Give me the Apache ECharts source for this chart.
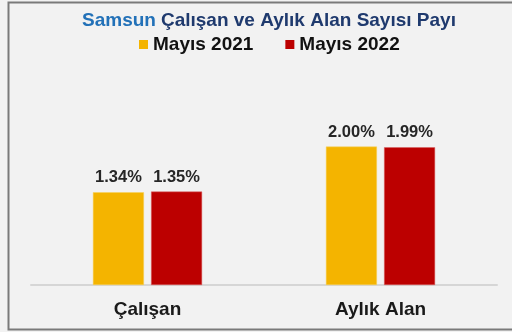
<!DOCTYPE html>
<html>
<head>
<meta charset="utf-8">
<script src="https://cdn.jsdelivr.net/npm/echarts@6/dist/echarts.min.js"></script>
<style>
  html, body { margin: 0; padding: 0; background: #f2f2f2; }
  #chart { width: 512px; height: 332px; }
</style>
</head>
<body>
<div id="chart"></div>
<script>
// Share of employees and monthly recipients in Samsun (%)
const categories = ['Çalışan', 'Aylık Alan'];
const seriesNames = ['Mayıs 2021', 'Mayıs 2022'];
const may2021 = [1.34, 2.00];
const may2022 = [1.35, 1.99];
const colors = ['#F4B400', '#BC0000'];

const chart = echarts.init(document.getElementById('chart'));

const FONT = 'Liberation Sans, Arial, sans-serif';

const labelStyle = {
  show: true,
  position: 'top',
  distance: 6,
  fontFamily: FONT,
  fontWeight: 'bold',
  fontSize: 16.5,
  color: '#262626',
  formatter: p => p.value.toFixed(2) + '%'
};

chart.setOption({
  backgroundColor: '#f2f2f2',
  animation: false,
  title: {
    text: '{a|Samsun} {b|Çalışan ve Aylık Alan Sayısı Payı}',
    left: 77,
    top: 6,
    textStyle: {
      rich: {
        a: { fontFamily: FONT, fontWeight: 'bold', fontSize: 19, color: '#2271B8' },
        b: { fontFamily: FONT, fontWeight: 'bold', fontSize: 19, color: '#1F3A6E' }
      }
    }
  },
  legend: {
    data: seriesNames,
    left: 134,
    top: 30,
    icon: 'rect',
    itemWidth: 9,
    itemHeight: 9,
    itemGap: 32,
    itemStyle: { borderWidth: 0 },
    textStyle: {
      fontFamily: FONT,
      fontWeight: 'bold',
      fontSize: 19,
      color: '#111111'
    }
  },
  grid: { left: 31, right: 15, top: 112, bottom: 47 },
  xAxis: {
    type: 'category',
    data: categories,
    axisLine: { lineStyle: { color: '#d6d6d6', width: 2 } },
    axisTick: { show: false },
    axisLabel: {
      margin: 15,
      fontFamily: FONT,
      fontWeight: 'bold',
      fontSize: 19,
      color: '#1a1a1a'
    }
  },
  yAxis: {
    type: 'value',
    min: 0,
    max: 2.5,
    show: false,
    splitLine: { show: false }
  },
  series: [
    {
      name: seriesNames[0],
      type: 'bar',
      data: may2021,
      barWidth: 51,
      barGap: '14%',
      itemStyle: { color: colors[0], borderColor: '#f7d35a', borderWidth: 0.5 },
      label: labelStyle
    },
    {
      name: seriesNames[1],
      type: 'bar',
      data: may2022,
      barWidth: 51,
      barGap: '14%',
      itemStyle: { color: colors[1], borderColor: '#d86060', borderWidth: 0.5 },
      label: labelStyle
    }
  ],
  graphic: [
    {
      type: 'rect',
      shape: { x: 8.5, y: 2.5, width: 520, height: 327 },
      style: { fill: null, stroke: '#7a7a7a', lineWidth: 2 },
      silent: true
    }
  ]
});
</script>
</body>
</html>
